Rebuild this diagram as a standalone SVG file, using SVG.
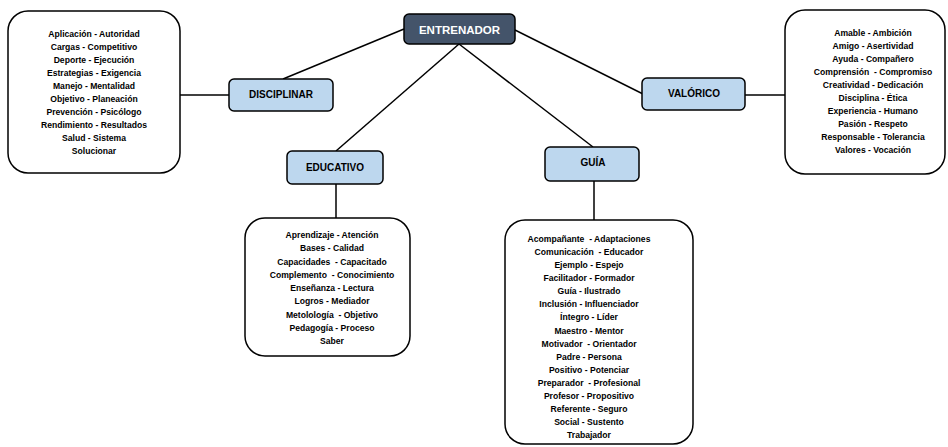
<svg xmlns="http://www.w3.org/2000/svg" width="948" height="447" viewBox="0 0 948 447">
<style>
.bg{fill:#fff}
.box{fill:#fff;stroke:#000;stroke-width:1.5}
.sub{fill:#BDD7EE;stroke:#000;stroke-width:1.5}
.root{fill:#44546A;stroke:#000;stroke-width:1.5}
.lbl{font-family:"Liberation Sans",Arial,sans-serif;font-weight:bold;font-size:10px;fill:#000;text-anchor:middle}
.rlbl{font-family:"Liberation Sans",Arial,sans-serif;font-weight:bold;font-size:11.5px;fill:#fff;text-anchor:middle}
.t{font-family:"Liberation Sans",Arial,sans-serif;font-weight:bold;font-size:8.6px;fill:#000;text-anchor:middle;white-space:pre}
.c{stroke:#000;stroke-width:1.5;fill:none}
</style>
<rect class="bg" x="0" y="0" width="948" height="447"/>
<g id="connectors">
<line class="c" x1="180" y1="95" x2="229" y2="95"/>
<line class="c" x1="283" y1="79" x2="404" y2="29"/>
<line class="c" x1="459" y1="44" x2="336" y2="151"/>
<line class="c" x1="459" y1="44" x2="593" y2="147"/>
<line class="c" x1="515" y1="30" x2="643" y2="94"/>
<line class="c" x1="745" y1="95" x2="785" y2="95"/>
<line class="c" x1="336" y1="184" x2="336" y2="218"/>
<line class="c" x1="594" y1="181" x2="594" y2="220"/>
</g>
<g id="entrenador">
<rect class="root" x="404" y="14" width="111" height="30" rx="5"/>
<text class="rlbl" x="459.5" y="34">ENTRENADOR</text>
</g>
<g id="disciplinar">
<rect class="sub" x="229" y="79" width="104" height="32" rx="5"/>
<text class="lbl" x="281" y="98">DISCIPLINAR</text>
</g>
<g id="valorico">
<rect class="sub" x="642" y="78" width="103" height="32" rx="5"/>
<text class="lbl" x="694" y="97">VALÓRICO</text>
</g>
<g id="educativo">
<rect class="sub" x="287" y="151" width="96" height="33" rx="5"/>
<text class="lbl" x="335" y="171">EDUCATIVO</text>
</g>
<g id="guia">
<rect class="sub" x="545" y="147" width="94" height="34" rx="5"/>
<text class="lbl" x="593" y="166">GUÍA</text>
</g>
<g id="disciplinar-list">
<rect class="box" x="8" y="11" width="172" height="162" rx="20"/>
<text class="t" x="94" y="36.5">Aplicación - Autoridad</text>
<text class="t" x="94" y="49.6">Cargas - Competitivo</text>
<text class="t" x="94" y="62.6">Deporte - Ejecución</text>
<text class="t" x="94" y="75.7">Estrategias - Exigencia</text>
<text class="t" x="94" y="88.7">Manejo - Mentalidad</text>
<text class="t" x="94" y="101.8">Objetivo - Planeación</text>
<text class="t" x="94" y="114.8">Prevención - Psicólogo</text>
<text class="t" x="94" y="127.9">Rendimiento - Resultados</text>
<text class="t" x="94" y="140.9">Salud - Sistema</text>
<text class="t" x="94" y="154">Solucionar</text>
</g>
<g id="valorico-list">
<rect class="box" x="785" y="10" width="160" height="164" rx="20"/>
<text class="t" x="873" y="35.7">Amable - Ambición</text>
<text class="t" x="873" y="48.7">Amigo - Asertividad</text>
<text class="t" x="873" y="61.8">Ayuda - Compañero</text>
<text class="t" x="873" y="74.8">Comprensión  - Compromiso</text>
<text class="t" x="873" y="87.8">Creatividad - Dedicación</text>
<text class="t" x="873" y="100.9">Disciplina - Ética</text>
<text class="t" x="873" y="113.9">Experiencia - Humano</text>
<text class="t" x="873" y="126.9">Pasión - Respeto</text>
<text class="t" x="873" y="140">Responsable - Tolerancia</text>
<text class="t" x="873" y="153">Valores - Vocación</text>
</g>
<g id="educativo-list">
<rect class="box" x="245" y="218" width="165" height="138" rx="20"/>
<text class="t" x="332" y="238">Aprendizaje - Atención</text>
<text class="t" x="332" y="251.2">Bases - Calidad</text>
<text class="t" x="332" y="264.5">Capacidades  - Capacitado</text>
<text class="t" x="332" y="277.7">Complemento  - Conocimiento</text>
<text class="t" x="332" y="291">Enseñanza - Lectura</text>
<text class="t" x="332" y="304.2">Logros - Mediador</text>
<text class="t" x="332" y="317.5">Metolología  - Objetivo</text>
<text class="t" x="332" y="330.7">Pedagogía - Proceso</text>
<text class="t" x="332" y="344">Saber</text>
</g>
<g id="guia-list">
<rect class="box" x="505" y="220" width="188" height="224" rx="20"/>
<text class="t" x="589" y="242">Acompañante  - Adaptaciones</text>
<text class="t" x="589" y="255.1">Comunicación  - Educador</text>
<text class="t" x="589" y="268.1">Ejemplo - Espejo</text>
<text class="t" x="589" y="281.2">Facilitador - Formador</text>
<text class="t" x="589" y="294.3">Guía - Ilustrado</text>
<text class="t" x="589" y="307.4">Inclusión - Influenciador</text>
<text class="t" x="589" y="320.4">Íntegro - Líder</text>
<text class="t" x="589" y="333.5">Maestro - Mentor</text>
<text class="t" x="589" y="346.6">Motivador  - Orientador</text>
<text class="t" x="589" y="359.6">Padre - Persona</text>
<text class="t" x="589" y="372.7">Positivo - Potenciar</text>
<text class="t" x="589" y="385.8">Preparador  - Profesional</text>
<text class="t" x="589" y="398.8">Profesor - Propositivo</text>
<text class="t" x="589" y="411.9">Referente - Seguro</text>
<text class="t" x="589" y="425">Social - Sustento</text>
<text class="t" x="589" y="438">Trabajador</text>
</g>
</svg>
